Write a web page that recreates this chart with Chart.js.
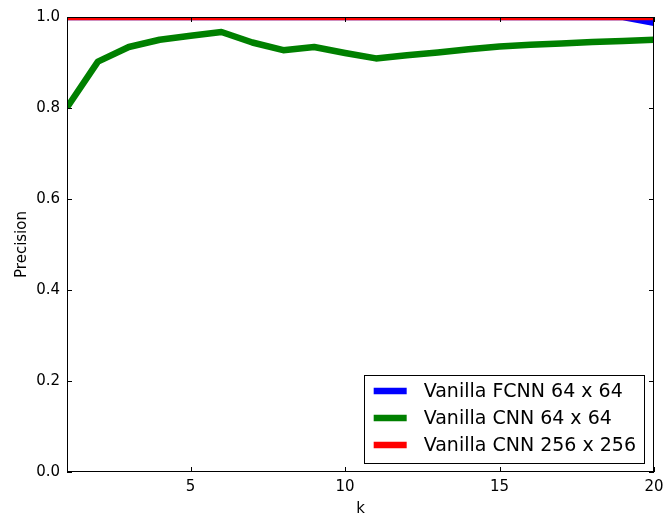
<!DOCTYPE html>
<html>
<head>
<meta charset="utf-8">
<script src="https://cdn.jsdelivr.net/npm/chart.js@4/dist/chart.umd.min.js"></script>
<style>
  html, body { margin: 0; padding: 0; background: #fff; }
  canvas { display: block; }
</style>
</head>
<body>
<canvas id="chart" width="665" height="520"></canvas>
<script>
// Precision at k for three models
const kValues = [1, 2, 3, 4, 5, 6, 7, 8, 9, 10, 11, 12, 13, 14, 15, 16, 17, 18, 19, 20];
const fcnn64 = [1.0, 1.0, 1.0, 1.0, 1.0, 1.0, 1.0, 1.0, 1.0, 1.0, 1.0, 1.0, 1.0, 1.0, 1.0, 1.0, 1.0, 1.0, 1.0, 0.987];
const cnn64 = [0.801, 0.902, 0.934, 0.950, 0.959, 0.967, 0.944, 0.927, 0.934, 0.921, 0.909, 0.916, 0.922, 0.929, 0.935, 0.939, 0.942, 0.945, 0.947, 0.950];
const cnn256 = [1.0, 1.0, 1.0, 1.0, 1.0, 1.0, 1.0, 1.0, 1.0, 1.0, 1.0, 1.0, 1.0, 1.0, 1.0, 1.0, 1.0, 1.0, 1.0, 1.0];
const seriesNames = ['Vanilla FCNN 64 x 64', 'Vanilla CNN 64 x 64', 'Vanilla CNN 256 x 256'];
const seriesColors = ['#0000ff', '#008000', '#ff0000'];
const xTickValues = [5, 10, 15, 20];
const yTickValues = [0.0, 0.2, 0.4, 0.6, 0.8, 1.0];

const FONT = "'DejaVu Sans', sans-serif";

function points(values) {
  return kValues.map((k, i) => ({ x: k, y: values[i] }));
}

function lineDataset(label, values, color, order) {
  return {
    label: label,
    data: points(values),
    borderColor: color,
    backgroundColor: color,
    borderWidth: 6.5,
    borderJoinStyle: 'round',
    pointRadius: 0,
    pointHoverRadius: 0,
    tension: 0,
    fill: false,
    clip: 0,
    order: order
  };
}

// Axes frame with inward ticks on all four sides
const frameTicks = {
  id: 'frameTicks',
  afterDatasetsDraw(chart) {
    const { ctx, chartArea: a, scales } = chart;
    const len = 5;
    ctx.save();
    ctx.strokeStyle = '#000';
    ctx.lineWidth = 1;
    ctx.beginPath();
    xTickValues.forEach(v => {
      const px = Math.round(scales.x.getPixelForValue(v)) + 0.5;
      ctx.moveTo(px, a.bottom); ctx.lineTo(px, a.bottom - len);
      ctx.moveTo(px, a.top); ctx.lineTo(px, a.top + len);
    });
    yTickValues.forEach(v => {
      const py = Math.round(scales.y.getPixelForValue(v)) + 0.5;
      ctx.moveTo(a.left, py); ctx.lineTo(a.left + len, py);
      ctx.moveTo(a.right, py); ctx.lineTo(a.right - len, py);
    });
    ctx.stroke();
    ctx.strokeRect(a.left + 0.5, a.top + 0.5, a.right - a.left - 1, a.bottom - a.top - 1);
    ctx.restore();
  }
};

// Boxed legend in the lower right corner of the plot area
const boxLegend = {
  id: 'boxLegend',
  afterDraw(chart) {
    const { ctx, chartArea: a } = chart;
    const fontSize = 19;
    ctx.save();
    ctx.font = fontSize + 'px ' + FONT;
    const maxText = Math.max(...seriesNames.map(t => ctx.measureText(t).width));
    const w = 60 + maxText + 8;
    const rowGap = 27;
    const h = 16 + rowGap * 2 + 18;
    const x0 = a.right - 10 - w;
    const y0 = a.bottom - 9 - h;
    ctx.fillStyle = '#fff';
    ctx.fillRect(x0, y0, w, h);
    ctx.strokeStyle = '#000';
    ctx.lineWidth = 1;
    ctx.strokeRect(Math.round(x0) + 0.5, Math.round(y0) + 0.5, Math.round(w), Math.round(h));
    seriesNames.forEach((name, i) => {
      const cy = y0 + 16 + i * rowGap;
      ctx.strokeStyle = seriesColors[i];
      ctx.lineWidth = 6.5;
      ctx.lineCap = 'butt';
      ctx.beginPath();
      ctx.moveTo(x0 + 10, cy);
      ctx.lineTo(x0 + 43, cy);
      ctx.stroke();
      ctx.fillStyle = '#000';
      ctx.textBaseline = 'middle';
      ctx.textAlign = 'left';
      ctx.fillText(name, x0 + 60, cy + 1);
    });
    ctx.restore();
  }
};

new Chart(document.getElementById('chart'), {
  type: 'line',
  data: {
    datasets: [
      lineDataset(seriesNames[0], fcnn64, seriesColors[0], 2),
      lineDataset(seriesNames[1], cnn64, seriesColors[1], 1),
      lineDataset(seriesNames[2], cnn256, seriesColors[2], 0)
    ]
  },
  options: {
    responsive: false,
    devicePixelRatio: 1,
    animation: false,
    layout: { padding: { left: 0, top: 17, right: 11, bottom: 0 } },
    plugins: {
      legend: { display: false },
      tooltip: { enabled: false }
    },
    scales: {
      x: {
        type: 'linear',
        min: 1,
        max: 20,
        afterBuildTicks: s => { s.ticks = xTickValues.map(v => ({ value: v })); },
        afterFit: s => { s.height = 48; s.paddingLeft = 0; s.paddingRight = 0; },
        grid: { display: false, drawTicks: false },
        border: { display: false },
        ticks: {
          color: '#000',
          font: { family: FONT, size: 15 },
          padding: 6,
          maxRotation: 0,
          callback: v => String(v)
        },
        title: {
          display: true,
          text: 'k',
          color: '#000',
          font: { family: FONT, size: 15 },
          padding: { top: 0, bottom: 2 }
        }
      },
      y: {
        type: 'linear',
        min: 0,
        max: 1,
        afterBuildTicks: s => { s.ticks = yTickValues.map(v => ({ value: v })); },
        afterFit: s => { s.width = 67; s.paddingTop = 0; s.paddingBottom = 0; },
        grid: { display: false, drawTicks: false },
        border: { display: false },
        ticks: {
          color: '#000',
          font: { family: FONT, size: 15 },
          padding: 7,
          callback: v => Number(v).toFixed(1)
        },
        title: {
          display: true,
          text: 'Precision',
          color: '#000',
          font: { family: FONT, size: 15 },
          padding: { top: 13, bottom: 0 }
        }
      }
    }
  },
  plugins: [frameTicks, boxLegend]
});
</script>
</body>
</html>
